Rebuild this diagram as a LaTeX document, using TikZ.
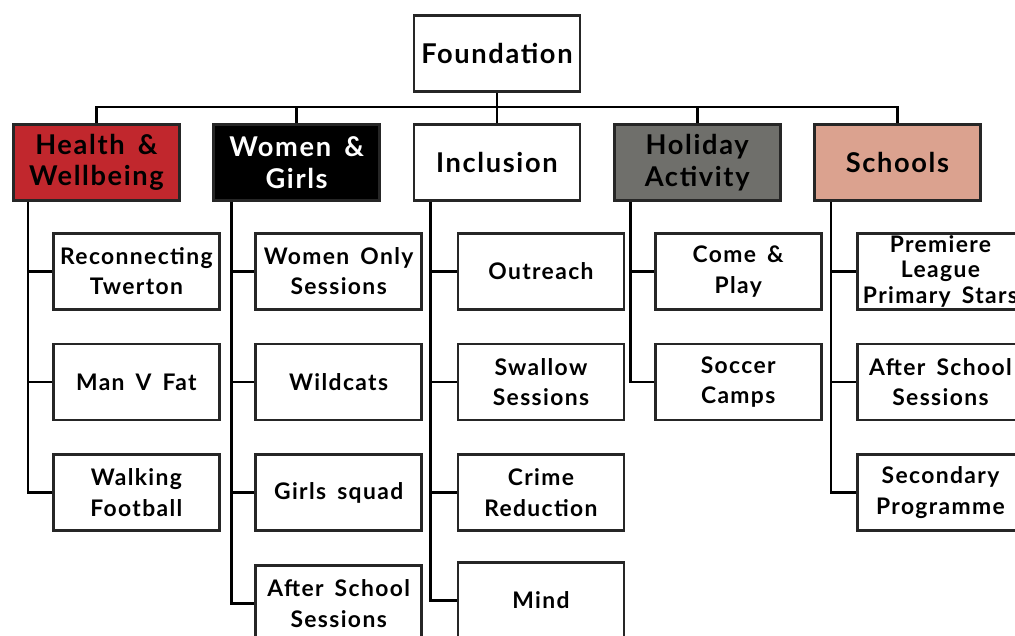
\documentclass[tikz,border=0pt]{standalone}
\usepackage{fontspec}
\setmainfont{Lato}[LetterSpace=6.0, WordSpace=1.6]
\usetikzlibrary{positioning}
\definecolor{hwred}{HTML}{C1272D}
\definecolor{hagrey}{HTML}{6F6F6B}
\definecolor{scpink}{HTML}{DBA28F}

\begin{document}
\begin{tikzpicture}[x=0.02cm, y=-0.02cm, node distance=0.64cm, line width=1.6pt,
    box/.style={draw=black!85, fill=white, minimum width=3.32cm, minimum height=1.52cm, align=center, inner sep=1pt, font=\bfseries\fontsize{13}{17.5}\selectfont},
    cat/.style={box, font=\bfseries\fontsize{15.5}{18}\selectfont},
    kid/.style={box, anchor=north west}]
    \useasboundingbox (0,0) rectangle (1015,636);
    \clip (0,0) rectangle (1015,636);

    % top two levels
    \node[cat, fill=hwred, anchor=north west] (hw) at (12,123) {Health \&\\Wellbeing};
    \node[cat, fill=black, text=white, right=0.63cm of hw] (wg) {Women \&\\Girls};
    \node[cat, right=0.63cm of wg] (inc) {Inclusion};
    \node[cat, fill=hagrey, right=0.63cm of inc] (ha) {Holiday\\Activity};
    \node[cat, fill=scpink, right=0.63cm of ha] (sc) {Schools};
    \node[cat, above=0.6cm of inc] (found) {Foundation};

    \coordinate (bus) at (0,107);
    \draw (found.south) -- (found.south |- bus);
    \draw (hw.north) -- (hw.north |- bus) -- (sc.north |- bus) -- (sc.north);
    \foreach \c in {wg,inc,ha}
        \draw (\c.north) -- (\c.north |- bus);

    % Health & Wellbeing
    \node[kid] (rt) at ([xshift=0.8cm, yshift=-0.6cm]hw.south west) {Reconnecting\\Twerton};
    \node[box, below=of rt] (mvf) {Man V Fat};
    \node[box, below=of mvf] (wf) {Walking\\Football};

    % Women & Girls
    \node[kid] (wos) at ([xshift=0.84cm, yshift=-0.6cm]wg.south west) {Women Only\\Sessions};
    \node[box, below=of wos] (wc) {Wildcats};
    \node[box, below=of wc] (gsq) {Girls squad};
    \node[box, below=of gsq] (wgas) {After School\\Sessions};

    % Inclusion
    \node[kid] (out) at ([xshift=0.88cm, yshift=-0.6cm]inc.south west) {Outreach};
    \node[box, below=of out] (sws) {Swallow\\Sessions};
    \node[box, below=of sws] (cr) {Crime\\Reduction};
    \node[box, below=0.58cm of cr] (mind) {Mind};

    % Holiday Activity
    \node[kid] (cp) at ([xshift=0.82cm, yshift=-0.6cm]ha.south west) {Come \&\\Play};
    \node[box, below=of cp] (scc) {Soccer\\Camps};

    % Schools
    \node[kid, font=\bfseries\fontsize{13}{14.5}\selectfont] (plps) at ([xshift=0.86cm, yshift=-0.6cm]sc.south west) {Premiere\\League\\Primary Stars};
    \node[box, below=of plps] (scas) {After School\\Sessions};
    \node[box, below=of scas] (sp) {Secondary\\Programme};

    % trunks
    \coordinate (hwT) at ([xshift=0.32cm]hw.south west);
    \coordinate (wgT) at ([xshift=0.38cm]wg.south west);
    \coordinate (incT) at ([xshift=0.36cm]inc.south west);
    \coordinate (haT) at ([xshift=0.36cm]ha.south west);
    \coordinate (scT) at ([xshift=0.36cm]sc.south west);
    \foreach \n in {rt,mvf,wf}
        \draw (hwT) |- (\n.west);
    \foreach \n in {wos,wc,gsq,wgas}
        \draw (wgT) |- (\n.west);
    \foreach \n in {out,sws,cr,mind}
        \draw (incT) |- (\n.west);
    \foreach \n in {cp,scc}
        \draw (haT) |- (\n.west);
    \foreach \n in {plps,scas,sp}
        \draw (scT) |- (\n.west);
\end{tikzpicture}
\end{document}
